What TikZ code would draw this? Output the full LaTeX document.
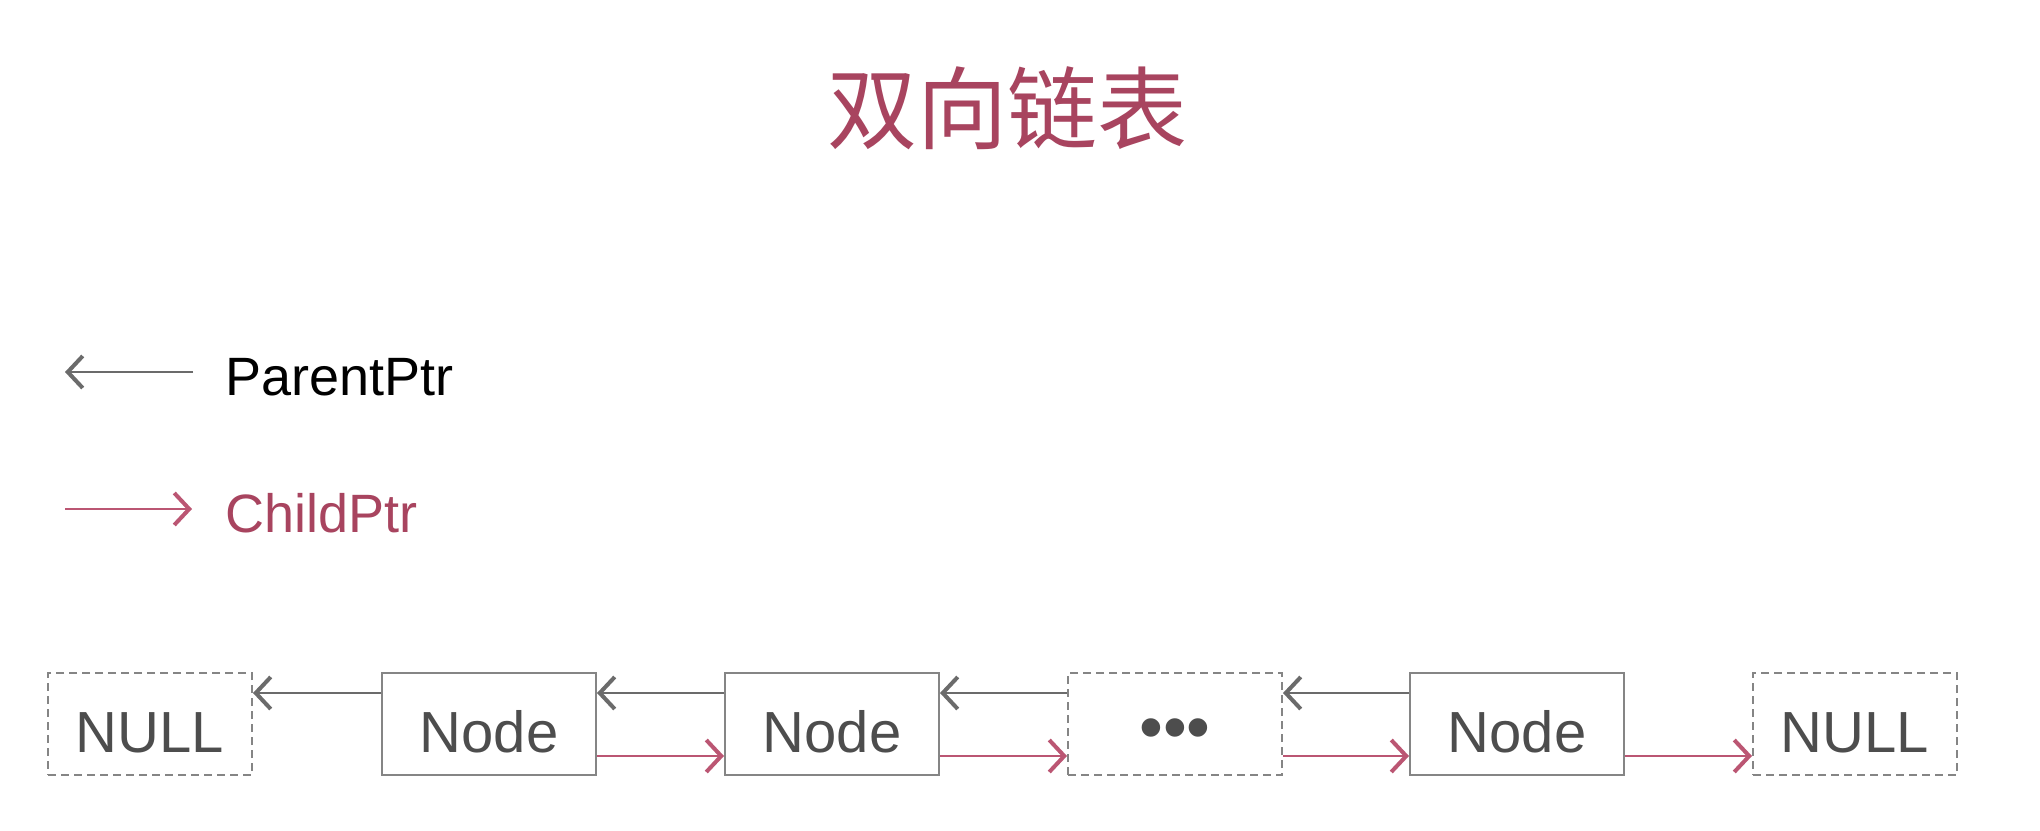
\documentclass[tikz,border=0pt]{standalone}
\usepackage{fontspec}
\setmainfont{Liberation Sans}
\newfontfamily\cjkfont{Noto Sans CJK SC}
\usetikzlibrary{arrows.meta}
\definecolor{titlecol}{HTML}{A8445F}
\definecolor{childcol}{HTML}{BB5673}
\definecolor{parcol}{HTML}{6B6B6B}
\definecolor{boxcol}{HTML}{858585}
\definecolor{txtcol}{HTML}{4D4D4D}
\tikzset{
  barb/.tip={Straight Barb[length=7.5pt,width=16pt,line width=2pt]},
  listbox/.style={draw=boxcol, line width=1pt, inner sep=0pt, minimum width=107pt, minimum height=51pt,
    text=txtcol, font=\fontsize{29pt}{34pt}\selectfont, text height=28pt, text depth=0pt},
  nullbox/.style={listbox, dash pattern=on 4pt off 2.5pt, minimum width=102pt},
  dotbox/.style={listbox, dash pattern=on 4pt off 2.5pt},
  parptr/.style={draw=parcol, line width=1pt, -barb},
  childptr/.style={draw=childcol, line width=1.2pt, -barb},
  legendtext/.style={anchor=base west, inner sep=0pt, font=\fontsize{27pt}{32pt}\selectfont},
}
\begin{document}
\begin{tikzpicture}[x=0.5pt, y=-0.5pt]
\useasboundingbox[fill=white] (0,0) rectangle (2040,830);
% title
\node[text=titlecol, font=\cjkfont\fontsize{45pt}{54pt}\selectfont, inner sep=0pt] (title) at (1007,108) {双向链表};
% legend
\coordinate (pa) at (193,372);
\coordinate (pb) at (65,372);
\draw[parptr] (pa) -- (pb);
\node[legendtext, text=black] (ptext) at (225,395) {ParentPtr};
\coordinate (ca) at (65,509);
\coordinate (cb) at (192,509);
\draw[childptr] (ca) -- (cb);
\node[legendtext, text=titlecol] (ctext) at (225,532) {ChildPtr};
% list
\node[nullbox] (null1) at (150,724) {NULL};
\node[listbox] (n1) at (489,724) {Node};
\node[listbox] (n2) at (832,724) {Node};
\node[dotbox, font=\fontsize{34pt}{40pt}\selectfont, text height=26pt] (dots) at (1175,724) {•••};
\node[listbox] (n3) at (1517,724) {Node};
\node[nullbox] (null2) at (1855,724) {NULL};
% parent pointers
\draw[parptr] ([yshift=15.5pt]n1.west) -- ([yshift=15.5pt]null1.east);
\draw[parptr] ([yshift=15.5pt]n2.west) -- ([yshift=15.5pt]n1.east);
\draw[parptr] ([yshift=15.5pt]dots.west) -- ([yshift=15.5pt]n2.east);
\draw[parptr] ([yshift=15.5pt]n3.west) -- ([yshift=15.5pt]dots.east);
% child pointers
\draw[childptr] ([yshift=-16pt]n1.east) -- ([yshift=-16pt]n2.west);
\draw[childptr] ([yshift=-16pt]n2.east) -- ([yshift=-16pt]dots.west);
\draw[childptr] ([yshift=-16pt]dots.east) -- ([yshift=-16pt]n3.west);
\draw[childptr] ([yshift=-16pt]n3.east) -- ([yshift=-16pt]null2.west);
\end{tikzpicture}
\end{document}
